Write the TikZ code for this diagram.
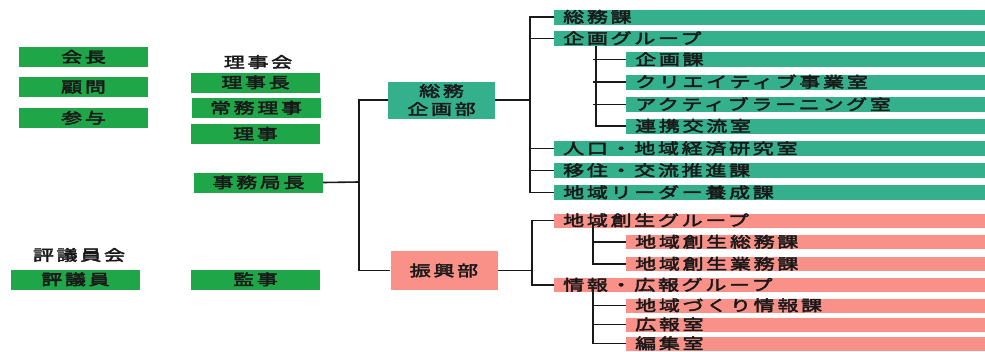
\documentclass[tikz,border=0pt]{standalone}
\usepackage{fontspec}
\newfontfamily\jp{Noto Sans CJK JP}[FakeStretch=1.4,LetterSpace=18,FakeBold=3]
\definecolor{boardgreen}{RGB}{31,166,72}
\definecolor{deptteal}{RGB}{52,176,141}
\definecolor{deptsalmon}{RGB}{249,145,137}

\begin{document}
\begin{tikzpicture}[x=1pt,y=-1pt,
  every node/.style={font=\jp\fontsize{15}{18}\selectfont, text=black!90},
  post/.style={fill=boardgreen, minimum width=129, minimum height=20, inner sep=0,
    text height=11, text depth=0},
  dept/.style={minimum width=107, minimum height=37, inner sep=0, align=center},
  bar/.style={anchor=west, minimum height=15, inner ysep=0, inner xsep=9,
    text height=11, text depth=0, align=left},
  mainbar/.style={bar, text width=413},
  subbar/.style={bar, text width=341},
  link/.style={line width=1.6pt, black!90}]
\useasboundingbox (0,0) rectangle (985,351);

% Left side posts
\node[post] (kaicho) at (83.5,57) {会長};
\node[post] (komon) at (83.5,87) {顧問};
\node[post] (sanyo) at (83.5,118) {参与};

\node (rijikai) at (258,62) {理事会};
\node[post] (rijicho) at (255.5,82.5) {理事長};
\node[post] (jomuriji) at (256,108) {常務理事};
\node[post] (riji) at (255.5,134) {理事};
\node[post] (kyokucho) at (258.5,182.5) {事務局長};

\node (hyogiinkai) at (79,255) {評議員会};
\node[post] (hyogiin) at (75.5,279.5) {評議員};
\node[post] (kanji) at (255.5,279.5) {監事};

% Departments
\node[dept, fill=deptteal] (somukikaku) at (441.5,100) {総務\\企画部};
\node[dept, fill=deptsalmon, minimum height=39] (shinko) at (444,270.5) {振興部};

% Sections of the first department
\node[mainbar, fill=deptteal] (somuka) at (554,17) {総務課};
\node[mainbar, fill=deptteal] (kikakug) at (554,38.5) {企画グループ};
\node[subbar, fill=deptteal] (kikakuka) at (626,59.5) {企画課};
\node[subbar, fill=deptteal] (creative) at (626,82) {クリエイティブ事業室};
\node[subbar, fill=deptteal] (active) at (626,104.5) {アクティブラーニング室};
\node[subbar, fill=deptteal] (renkei) at (626,126) {連携交流室};
\node[mainbar, fill=deptteal] (jinko) at (554,148.5) {人口・地域経済研究室};
\node[mainbar, fill=deptteal] (iju) at (554,170.5) {移住・交流推進課};
\node[mainbar, fill=deptteal] (leader) at (554,192.5) {地域リーダー養成課};

% Sections of the second department
\node[mainbar, fill=deptsalmon, minimum height=14] (chiikig) at (554,220.5) {地域創生グループ};
\node[subbar, fill=deptsalmon, minimum height=14] (chsomu) at (626,242) {地域創生総務課};
\node[subbar, fill=deptsalmon, minimum height=14] (chgyomu) at (626,264) {地域創生業務課};
\node[mainbar, fill=deptsalmon, minimum height=14] (johog) at (554,285) {情報・広報グループ};
\node[subbar, fill=deptsalmon, minimum height=14] (zukuri) at (626,305.5) {地域づくり情報課};
\node[subbar, fill=deptsalmon, minimum height=14] (koho) at (626,324.5) {広報室};
\node[subbar, fill=deptsalmon, minimum height=14] (henshu) at (626,343.5) {編集室};

% Trunk
\coordinate (trunk) at (359,182);
\draw[link] (kyokucho.east) -- (trunk);
\draw[link] (somukikaku.west) -| (trunk) |- (shinko.west);

% First department tree
\coordinate (tspine) at (530,100);
\draw[link] (somukikaku.east) -- (tspine);
\draw[link] (somuka.west) -| (tspine) |- (leader.west);
\foreach \n in {kikakug,jinko,iju}
  \draw[link] (tspine |- \n.west) -- (\n.west);
\coordinate (ksub) at (596,46);
\draw[link] (ksub) |- (renkei.west);
\foreach \n in {kikakuka,creative,active}
  \draw[link] (ksub |- \n.west) ++(-3,0) -- (\n.west);

% Second department tree
\coordinate (sspine) at (532,250);
\draw[link] (shinko.east) -- (shinko.east -| sspine);
\draw[link] (chiikig.west) -| (sspine) |- (johog.west);
\coordinate (csub) at (593,222);
\draw[link] (csub) |- (chgyomu.west);
\draw[link] (csub |- chsomu.west) -- (chsomu.west);
\coordinate (jsub) at (593,287);
\draw[link] (jsub) |- (henshu.west);
\foreach \n in {zukuri,koho}
  \draw[link] (jsub |- \n.west) -- (\n.west);
\end{tikzpicture}
\end{document}
